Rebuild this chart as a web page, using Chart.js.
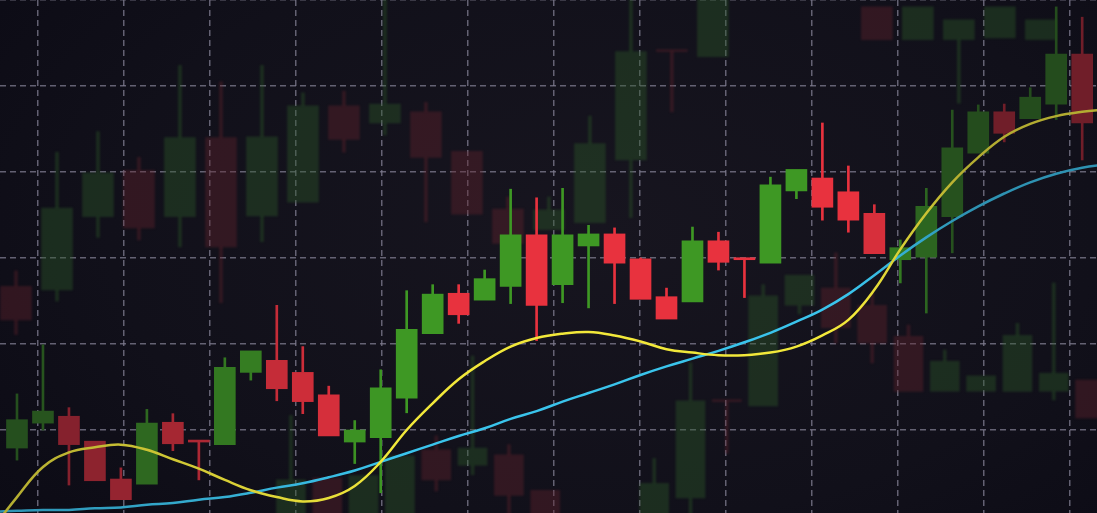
<!DOCTYPE html>
<html>
<head>
<meta charset="utf-8">
<script src="https://cdn.jsdelivr.net/npm/chart.js@4.4.1/dist/chart.umd.min.js"></script>
<style>
  html, body { margin: 0; padding: 0; }
  body {
    width: 1097px; height: 513px; overflow: hidden;
    background: radial-gradient(ellipse 75% 95% at 55% 45%, #17151f 0%, #11101a 60%, #0b0a14 100%);
  }
  #wrap { position: relative; width: 1097px; height: 513px; }
</style>
</head>
<body>
<div id="wrap"><canvas id="candles"></canvas></div>
<script>
// foreground sessions, price units
const open  = [67.9, 70.8, 71.6, 68.7, 64.3, 63.7, 70.9, 68.7, 68.3, 76.7, 78.1, 76.7, 74.1, 68.6, 69.1, 73.7, 81.2, 85.9, 85.1, 86.7, 92.7,
               86.9, 91.4, 92.8, 89.9, 85.5, 84.9, 92.0, 89.9, 89.4, 97.8, 99.3, 97.7, 95.2, 89.8, 90.1, 94.8, 102.2, 107.0, 106.2, 107.9, 113.7];
const high  = [74.2, 79.9, 72.6, 68.7, 65.6, 72.4, 71.9, 68.7, 78.4, 79.2, 84.5, 79.7, 75.1, 71.1, 77.0, 86.2, 86.9, 86.9, 88.6, 98.0, 97.0,
               98.1, 93.8, 93.5, 90.0, 86.5, 93.6, 93.0, 89.9, 99.4, 100.3, 105.7, 100.7, 96.2, 92.1, 98.1, 107.2, 107.8, 107.9, 109.8, 119.2, 118.0];
const low   = [66.5, 70.0, 63.6, 64.1, 61.9, 63.7, 67.6, 64.2, 68.3, 75.8, 73.4, 71.9, 69.3, 66.1, 62.7, 72.0, 81.2, 82.4, 85.1, 84.7, 80.4,
               84.8, 84.2, 84.7, 85.2, 82.9, 84.9, 88.6, 85.4, 89.4, 96.9, 94.4, 93.0, 90.5, 87.1, 83.6, 90.6, 102.2, 103.5, 106.2, 106.1, 101.4];
const close = [71.2, 72.2, 68.3, 64.1, 61.9, 70.8, 68.4, 68.6, 77.3, 79.2, 74.8, 73.3, 69.3, 70.0, 74.9, 81.7, 85.8, 83.4, 87.6, 92.7, 84.5,
               92.7, 92.8, 89.4, 85.2, 82.9, 92.0, 89.5, 89.8, 98.5, 100.3, 95.9, 94.4, 90.5, 91.2, 96.0, 102.8, 107.0, 104.5, 108.7, 113.7, 105.7];

// moving averages, one value per session, starting one session before the first candle
const maFirstSession = -1;
const maFast = [58.3, 62.2, 65.7, 67.4, 68.0, 68.3, 67.7, 66.6, 65.5, 64.2, 63.0, 62.2, 61.7, 62.1, 63.5, 66.3, 70.0, 73.1, 75.9, 78.0, 79.7, 80.7,
                81.2, 81.4, 81.0, 80.3, 79.4, 79.0, 78.7, 78.7, 79.0, 79.7, 81.0, 82.8, 86.3, 91.0, 95.2, 98.8, 101.7, 104.1, 105.6, 106.5, 107.0, 107.3];
const maSlow = [60.5, 60.6, 60.7, 60.7, 60.9, 61.0, 61.3, 61.5, 61.9, 62.2, 62.7, 63.3, 63.8, 64.5, 65.3, 66.3, 67.3, 68.3, 69.3, 70.2, 71.3, 72.2,
                73.3, 74.3, 75.3, 76.4, 77.4, 78.3, 79.2, 80.2, 81.3, 82.6, 84.0, 85.8, 88.0, 90.3, 92.4, 94.3, 96.0, 97.5, 98.8, 99.8, 100.5, 100.9];

// blurred candles in the background, upper layer
const ghostAOpen  = [86.7, 86.3, 94.8, 100.2, 94.8, 104.0, 94.9, 96.5, 107.7, 105.7, 107.0, 102.4, 95.7, 93.3, 94.1, 101.4, 114.2, 113.4, null, null, null, 119.2, 115.4, 115.4, 115.6, 115.4];
const ghostAHigh  = [88.5, 102.3, 104.7, 101.7, 112.4, 110.5, 112.4, 109.2, 109.4, 125, 108.1, 102.4, 97.1, 97.1, 106.5, 125, 114.2, 125, null, null, null, 119.2, 119.2, 117.7, 119.2, 117.7];
const ghostALow   = [81.1, 85.0, 92.4, 92.1, 91.3, 84.8, 91.9, 96.5, 102.3, 104.3, 94.2, 95.1, 91.7, 93.3, 94.1, 94.7, 107.0, 113.4, null, null, null, 115.4, 115.4, 108.0, 115.6, 115.4];
const ghostAClose = [82.8, 95.8, 99.9, 93.5, 104.0, 91.3, 104.1, 107.7, 103.8, 107.9, 101.7, 95.1, 91.7, 95.6, 103.3, 114.0, 114.0, 125, null, null, null, 115.4, 119.2, 117.7, 119.2, 117.7];

// blurred candles in the background, lower layer
const ghostBOpen  = [58, 64.4, 58, 58, 67.7, 65.9, 67.1, 63.0, null, null, 58, 62.1, 73.5, 72.8, 84.5, 86.5, 84.5, 80.9, 74.5, 74.5, 74.5, 74.5, 75.8];
const ghostBHigh  = [71.7, 64.4, 64.7, 67.0, 69.3, 78.6, 68.3, 63.0, null, null, 66.7, 77.8, 73.5, 86.9, 88.0, 90.6, 85.9, 82.2, 79.3, 76.3, 82.4, 87.1, 75.8];
const ghostBLow   = [58, 58, 58, 58, 62.9, 64.8, 58, 58, null, null, 58, 58, 67.3, 72.8, 83.5, 80.1, 77.8, 74.5, 74.5, 74.5, 74.5, 73.5, 71.4];
const ghostBClose = [64.2, 58, 64.7, 67.0, 64.2, 67.9, 62.4, 58, null, null, 63.8, 73.4, 73.3, 85.6, 88.0, 81.9, 80.1, 74.5, 78.0, 76.3, 81.0, 76.6, 71.4];

// dashed grid
const priceLevels = [70, 80, 90, 100, 110, 120];
const timeLevels = [0, 1, 2, 3, 4, 5, 6, 7, 8, 9, 10, 11, 12];

const BG = [14, 13, 24];
const GREEN = [62, 152, 36];
const RED = [232, 50, 62];
const YELLOW = [242, 232, 58];
const BLUE = [58, 196, 236];

// the photo is sharp in the middle and darker towards the sides
function fadeAt(px) {
  if (px < 390) return 0.45 + 0.55 * Math.max(0, px) / 390;
  if (px <= 860) return 1;
  if (px <= 960) return 1 - 0.55 * (px - 860) / 100;
  return 0.45;
}

function mix(c, f) {
  const r = c.map((v, i) => Math.round(BG[i] + (v - BG[i]) * f));
  return `rgb(${r.join(",")})`;
}

function candleParts(opens, highs, lows, closes) {
  const bodies = [], wicks = [];
  opens.forEach((o, k) => {
    if (o == null) return;
    const c = closes[k];
    const top = Math.max(o, c), bot = Math.min(o, c), up = c >= o;
    bodies.push({ x: k, y: [bot, top], up });
    if (highs[k] > top) wicks.push({ x: k, y: [top, highs[k]], up });
    if (lows[k] < bot) wicks.push({ x: k, y: [lows[k], bot], up });
  });
  return { bodies, wicks };
}

const fg = candleParts(open, high, low, close);
const ghostA = candleParts(ghostAOpen, ghostAHigh, ghostALow, ghostAClose);
const ghostB = candleParts(ghostBOpen, ghostBHigh, ghostBLow, ghostBClose);

const candleColor = (ctx) => {
  const raw = ctx.raw;
  if (!raw) return mix(GREEN, 1);
  const px = ctx.chart.scales.x.getPixelForValue(raw.x);
  const f = isFinite(px) ? fadeAt(px) : 1;
  return mix(raw.up ? GREEN : RED, f);
};

const ghostColor = (ctx) => (ctx.raw && ctx.raw.up) ? "rgba(46, 91, 39, 0.4)" : "rgba(99, 35, 46, 0.4)";

function lineColor(base) {
  return (ctx) => {
    const { chart } = ctx;
    const a = chart.chartArea;
    if (!a) return mix(base, 1);
    const g = chart.ctx.createLinearGradient(a.left, 0, a.right, 0);
    [0, 0.1, 0.2, 0.3, 0.36, 0.78, 0.82, 0.88, 1].forEach((s) => {
      const f = 0.5 + 0.5 * fadeAt(a.left + s * (a.right - a.left));
      g.addColorStop(s, mix(base, f));
    });
    return g;
  };
}

const ghostBlur = {
  id: "ghostBlur",
  beforeDatasetDraw(chart, args) {
    if (chart.data.datasets[args.index].ghost) chart.ctx.filter = "blur(1.3px)";
  },
  afterDatasetDraw(chart) {
    chart.ctx.filter = "none";
  },
};

const gridStyle = {
  grid: { color: "rgba(128, 126, 145, 0.75)", lineWidth: 1.5, drawTicks: false, offset: false, borderDash: [6, 4] },
  border: { display: false, dash: [6, 4] },
  ticks: { display: false },
};

const hiddenX = { type: "linear", display: false, offset: false, grid: { offset: false } };

new Chart(document.getElementById("candles"), {
  type: "bar",
  data: {
    datasets: [
      { type: "line", label: "MA fast", data: maFast.map((v, k) => ({ x: maFirstSession + k, y: v })),
        xAxisID: "x", borderColor: lineColor(YELLOW), borderWidth: 2.5, pointRadius: 0,
        tension: 0.4, fill: false, order: 0 },
      { type: "line", label: "MA slow", data: maSlow.map((v, k) => ({ x: maFirstSession + k, y: v })),
        xAxisID: "x", borderColor: lineColor(BLUE), borderWidth: 2.5, pointRadius: 0,
        tension: 0.4, fill: false, order: 1 },
      { label: "bodies", data: fg.bodies, xAxisID: "x", backgroundColor: candleColor,
        barThickness: 21, minBarLength: 2, grouped: false, order: 2 },
      { label: "wicks", data: fg.wicks, xAxisID: "x", backgroundColor: candleColor,
        barThickness: 2, grouped: false, order: 3 },
      { label: "ghost B bodies", data: ghostB.bodies, xAxisID: "xb", backgroundColor: ghostColor,
        barThickness: 29, minBarLength: 2, grouped: false, order: 4, ghost: true },
      { label: "ghost B wicks", data: ghostB.wicks, xAxisID: "xb", backgroundColor: ghostColor,
        barThickness: 3, grouped: false, order: 5, ghost: true },
      { label: "ghost A bodies", data: ghostA.bodies, xAxisID: "xa", backgroundColor: ghostColor,
        barThickness: 31, minBarLength: 2, grouped: false, order: 6, ghost: true },
      { label: "ghost A wicks", data: ghostA.wicks, xAxisID: "xa", backgroundColor: ghostColor,
        barThickness: 3, grouped: false, order: 7, ghost: true },
    ],
  },
  options: {
    responsive: true,
    maintainAspectRatio: false,
    animation: false,
    events: [],
    layout: { padding: 0 },
    datasets: { bar: { borderWidth: 0 } },
    scales: {
      x: { ...hiddenX, min: -0.654, max: 41.57 },
      xa: { ...hiddenX, min: -0.39, max: 26.37 },
      xb: { ...hiddenX, min: -8.01, max: 22.19 },
      xg: {
        type: "linear", position: "bottom", min: -0.442, max: 12.314, offset: false,
        afterBuildTicks: (axis) => { axis.ticks = timeLevels.map((v) => ({ value: v })); },
        ...gridStyle,
      },
      y: {
        type: "linear", min: 60.35, max: 120,
        afterBuildTicks: (axis) => { axis.ticks = priceLevels.map((v) => ({ value: v })); },
        ...gridStyle,
      },
    },
    plugins: {
      legend: { display: false },
      tooltip: { enabled: false },
    },
  },
  plugins: [ghostBlur],
});
</script>
</body>
</html>
